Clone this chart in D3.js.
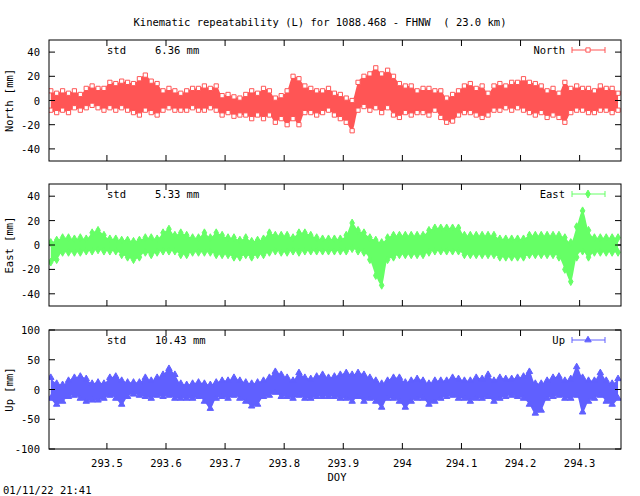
<!DOCTYPE html>
<html><head><meta charset="utf-8">
<script src="https://cdn.jsdelivr.net/npm/d3@7"></script>
<style>
body{margin:0;background:#fff}
text{font-family:"DejaVu Sans Mono",monospace;font-size:10.5px;fill:#000;white-space:pre}
</style></head>
<body><div id="chart"></div>
<script>
// bins of 0.01 DOY starting at 293.40, upper / lower envelope in mm
const binStart = 293.40, binWidth = 0.01;
const northHi = [8,6,8,6,8,5,10,12,10,10,15,14,16,15,14,18,21,16,14,8,10,8,6,8,10,10,12,10,12,4,5,3,2,5,8,6,10,8,2,4,8,20,18,12,10,8,8,10,6,5,2,0,15,20,22,27,22,25,20,14,12,12,8,10,10,8,8,2,5,8,12,14,10,12,6,12,14,12,15,15,18,15,14,12,8,10,6,15,10,12,10,10,8,12,10,10,6];
const northLo = [-8,-10,-8,-10,-6,-8,-6,-4,-6,-8,-6,-8,-6,-8,-10,-12,-8,-10,-12,-8,-6,-8,-8,-8,-6,-8,-8,-6,-8,-12,-10,-13,-12,-12,-15,-12,-15,-12,-18,-15,-20,-15,-20,-10,-10,-12,-10,-8,-12,-15,-18,-25,-8,-5,-8,-6,-10,-6,-12,-14,-10,-12,-10,-10,-12,-8,-14,-18,-17,-12,-10,-10,-12,-14,-12,-8,-8,-6,-8,-6,-8,-10,-12,-10,-14,-12,-14,-18,-10,-8,-8,-10,-10,-8,-8,-10,-8];
const eastHi = [2,4,6,6,5,6,5,10,12,8,5,5,4,4,3,4,6,6,5,10,13,8,10,8,6,6,10,6,10,8,6,6,4,6,3,4,5,10,8,8,8,6,10,10,8,6,5,5,5,5,8,18,12,10,6,4,2,6,8,8,8,8,8,8,12,14,14,14,14,14,8,8,8,8,8,8,5,5,5,5,5,8,8,8,8,8,8,6,2,15,28,12,6,6,6,6,6];
const eastLo = [-14,-12,-6,-6,-6,-6,-5,-5,-4,-5,-5,-5,-8,-10,-12,-10,-6,-8,-6,-5,-5,-5,-8,-8,-6,-6,-6,-6,-8,-8,-8,-10,-10,-8,-10,-8,-8,-6,-5,-6,-6,-5,-6,-5,-5,-5,-5,-5,-5,-5,-5,-3,-5,-6,-12,-25,-33,-12,-10,-8,-8,-8,-8,-8,-6,-5,-5,-5,-5,-5,-8,-8,-8,-8,-8,-8,-10,-10,-10,-10,-10,-8,-8,-8,-8,-8,-10,-20,-30,-10,-5,-10,-6,-6,-6,-6,-6];
const upHi = [20,10,8,15,20,22,18,10,12,10,20,22,15,12,12,12,20,15,20,25,35,25,10,8,10,12,10,8,12,15,15,20,15,12,10,12,15,20,30,25,20,15,28,20,18,22,25,20,22,25,28,25,28,25,20,15,10,15,20,20,12,15,18,15,10,15,15,15,20,18,15,15,20,18,25,15,20,18,18,20,22,30,10,10,15,20,22,15,18,38,20,15,15,28,15,10,18];
const upLo = [-15,-25,-20,-12,-10,-15,-20,-18,-18,-15,-10,-15,-25,-12,-8,-10,-12,-15,-10,-12,-10,-15,-15,-15,-15,-12,-20,-32,-15,-12,-15,-10,-15,-20,-28,-25,-12,-10,-5,-12,-12,-15,-10,-15,-15,-12,-12,-12,-12,-15,-15,-20,-12,-20,-15,-20,-30,-15,-15,-20,-30,-20,-15,-15,-25,-20,-15,-12,-10,-15,-15,-20,-15,-15,-12,-20,-15,-12,-10,-12,-15,-25,-40,-35,-15,-12,-10,-15,-15,-10,-38,-20,-15,-10,-20,-25,-15];
const xTicks = [293.5,293.6,293.7,293.8,293.9,294,294.1,294.2,294.3];

const panels = [
  {name:"North", label:"North [mm]", std:"6.36 mm", hi:northHi, lo:northLo, color:"#ff5555", marker:"square", top:40, bottom:161, dom:[-50,50], ticks:[-40,-20,0,20,40]},
  {name:"East", label:"East [mm]", std:"5.33 mm", hi:eastHi, lo:eastLo, color:"#66ff66", marker:"diamond", top:184, bottom:306, dom:[-50,50], ticks:[-40,-20,0,20,40]},
  {name:"Up", label:"Up [mm]", std:"10.43 mm", hi:upHi, lo:upLo, color:"#6060ff", marker:"triangle", top:330, bottom:449, dom:[-100,100], ticks:[-100,-50,0,50,100]}
];

const W = 640, H = 496, left = 49, right = 621;
const svg = d3.select("#chart").append("svg").attr("width", W).attr("height", H);
const x = d3.scaleLinear().domain([293.402, 294.370]).range([left, right]);

const sym = {square:d3.symbolSquare, diamond:d3.symbolDiamond, triangle:d3.symbolTriangle};

panels.forEach(p => {
  const y = d3.scaleLinear().domain(p.dom).range([p.bottom, p.top]);
  const g = svg.append("g");
  const clip = "clip" + p.name;
  g.append("clipPath").attr("id", clip).append("rect")
    .attr("x", left).attr("y", p.top).attr("width", right - left).attr("height", p.bottom - p.top);

  // zero line
  g.append("line").attr("x1", left).attr("x2", right).attr("y1", y(0)).attr("y2", y(0))
    .attr("stroke", "#000").attr("stroke-width", 1);

  const bins = p.hi.map((h, i) => ({xc: binStart + (i + 0.5) * binWidth, hi: h, lo: p.lo[i]}));
  const dg = g.append("g").attr("clip-path", `url(#${clip})`);
  const area = d3.area().x(d => x(d.xc)).y0(d => y(d.lo)).y1(d => y(d.hi)).curveMonotoneX || null;
  dg.append("path").datum(bins)
    .attr("d", d3.area().curve(d3.curveMonotoneX).x(d => x(d.xc)).y0(d => y(d.lo)).y1(d => y(d.hi)))
    .attr("fill", p.color);
  const ends = bins.flatMap(d => [{x: d.xc, v: d.hi}, {x: d.xc, v: d.lo}]);
  dg.selectAll("path.m").data(ends).enter().append("path")
    .attr("d", d3.symbol().type(sym[p.marker]).size(18))
    .attr("transform", d => `translate(${x(d.x)},${y(d.v)})`)
    .attr("fill", p.marker === "square" ? "#fff" : p.color)
    .attr("stroke", p.color).attr("stroke-width", 1);

  // frame
  g.append("rect").attr("x", left).attr("y", p.top).attr("width", right - left).attr("height", p.bottom - p.top)
    .attr("fill", "none").attr("stroke", "#000").attr("stroke-width", 1);

  // y ticks both sides
  p.ticks.forEach(t => {
    g.append("line").attr("x1", left).attr("x2", left + 6).attr("y1", y(t)).attr("y2", y(t)).attr("stroke", "#000");
    g.append("line").attr("x1", right).attr("x2", right - 6).attr("y1", y(t)).attr("y2", y(t)).attr("stroke", "#000");
    g.append("text").attr("x", 40).attr("y", y(t) + 4).attr("text-anchor", "end").text(t);
  });
  // x ticks
  xTicks.forEach(t => {
    g.append("line").attr("x1", x(t)).attr("x2", x(t)).attr("y1", p.bottom).attr("y2", p.bottom - 6).attr("stroke", "#000");
    g.append("line").attr("x1", x(t)).attr("x2", x(t)).attr("y1", p.top).attr("y2", p.top + 6).attr("stroke", "#000");
  });

  g.append("text").attr("transform", `translate(13,${(p.top + p.bottom) / 2}) rotate(-90)`)
    .attr("text-anchor", "middle").text(p.label);
  g.append("text").attr("x", 107).attr("y", p.top + 14).text("std");
  g.append("text").attr("x", 155).attr("y", p.top + 14).text(p.std);

  // legend
  const ly = p.top + 10;
  g.append("text").attr("x", 565).attr("y", ly + 4).attr("text-anchor", "end").text(p.name);
  g.append("line").attr("x1", 572).attr("x2", 605).attr("y1", ly).attr("y2", ly).attr("stroke", p.color);
  [572, 605].forEach(cx => g.append("line").attr("x1", cx).attr("x2", cx).attr("y1", ly - 3).attr("y2", ly + 3).attr("stroke", p.color));
  g.append("path").attr("d", d3.symbol().type(sym[p.marker]).size(18)).attr("transform", `translate(588,${ly})`)
    .attr("fill", p.marker === "square" ? "#fff" : p.color).attr("stroke", p.color);
});

xTicks.forEach(t => {
  svg.append("text").attr("x", x(t)).attr("y", 467).attr("text-anchor", "middle").text(t);
});
svg.append("text").attr("x", 337).attr("y", 481).attr("text-anchor", "middle").text("DOY");
svg.append("text").attr("x", 3).attr("y", 494).text("01/11/22 21:41");
svg.append("text").attr("x", 320).attr("y", 26).attr("text-anchor", "middle")
  .text("Kinematic repeatability (L) for 1088.468 - FHNW  ( 23.0 km)");
</script>
</body></html>
